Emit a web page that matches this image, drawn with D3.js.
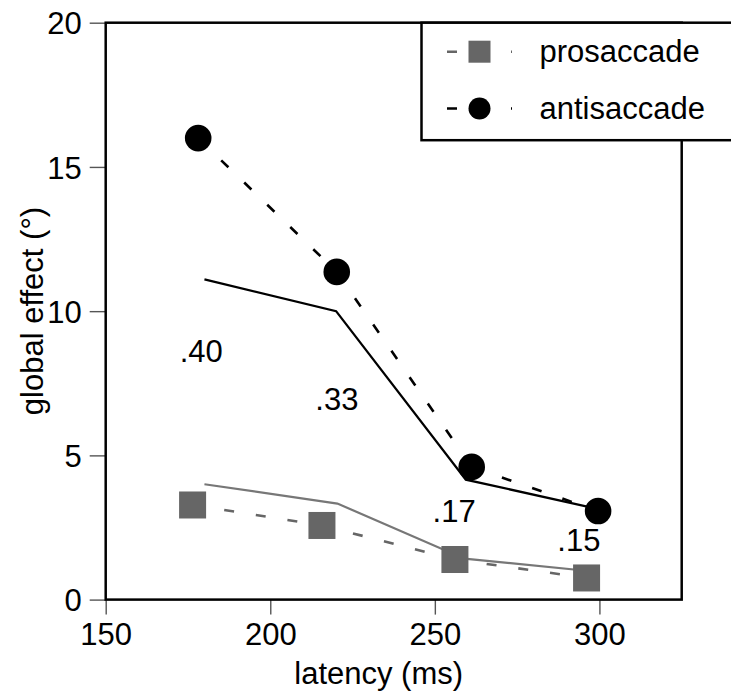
<!DOCTYPE html>
<html>
<head>
<meta charset="utf-8">
<script src="https://cdn.jsdelivr.net/npm/d3@7"></script>
<style>
  body { margin:0; background:#fff; }
  svg text { font-family: "Liberation Sans", Arial, Helvetica, sans-serif; }
</style>
</head>
<body>
<svg></svg>
<script>
// data
var xTicks = [150, 200, 250, 300];
var yTicks = [0, 5, 10, 15, 20];

// markers (dashed connections)
var proLatency  = [176.4, 215.7, 256.1, 296.1];
var proEffect   = [3.28, 2.57, 1.39, 0.75];
var antiLatency = [178.1, 220.2, 261.2, 299.6];
var antiEffect  = [16.0, 11.36, 4.6, 3.07];

// model fits (solid lines)
var proFitLatency  = [180, 220.4, 259, 296];
var proFitEffect   = [4.0, 3.33, 1.42, 1.0];
var antiFitLatency = [180, 220, 259.4, 300];
var antiFitEffect  = [11.1, 10.0, 4.16, 3.13];

// numbers written in the plot
var noteText    = [".40", ".33", ".17", ".15"];
var noteLatency = [172.5, 213.7, 249.3, 287.2];
var noteEffect  = [8.24, 6.56, 2.69, 1.69];

var legendNames = ["prosaccade", "antisaccade"];

var screen = {width:731, height:693};
var margins = {left:105.7, top:22.7, right:49.3, bottom:93.4};
var graph = {
    width: screen.width - margins.left - margins.right,
    height: screen.height - margins.top - margins.bottom
};

var grey = "#666666";
var fontSize = 31;

var svg = d3.select("svg")
    .attr("width", screen.width)
    .attr("height", screen.height);

var xScale = d3.scaleLinear().domain([150, 325]).range([0, graph.width]);
var yScale = d3.scaleLinear().domain([0, 20]).range([graph.height, 0]);

var target = svg.append("g")
    .attr("transform", "translate(" + margins.left + "," + margins.top + ")");

// axes
var yAxis = target.append("g")
    .call(d3.axisLeft(yScale).tickValues(yTicks).tickSize(16).tickPadding(8));
var xAxis = target.append("g")
    .attr("transform", "translate(0," + graph.height + ")")
    .call(d3.axisBottom(xScale).tickValues(xTicks).tickSize(15).tickPadding(8));

[xAxis, yAxis].forEach(function(ax) {
    ax.select(".domain").remove();
    ax.selectAll(".tick line").attr("stroke", "#555").attr("stroke-width", 1.4);
    ax.selectAll(".tick text")
        .attr("font-size", fontSize)
        .attr("fill", "#000")
        .style("font-family", '"Liberation Sans", Arial, sans-serif');
});
yAxis.selectAll(".tick text").attr("dy", "0.36em");
xAxis.selectAll(".tick text").attr("dy", "0.72em");

// frame
target.append("rect")
    .attr("x", 0).attr("y", 0)
    .attr("width", graph.width).attr("height", graph.height)
    .attr("fill", "none").attr("stroke", "#000").attr("stroke-width", 2.5);

var zip = function(xs, ys) {
    return xs.map(function(x, i) { return [x, ys[i]]; });
};
var line = d3.line()
    .x(function(d) { return xScale(d[0]); })
    .y(function(d) { return yScale(d[1]); });

// fitted solid lines
target.append("path")
    .attr("d", line(zip(proFitLatency, proFitEffect)))
    .attr("fill", "none").attr("stroke", "#777").attr("stroke-width", 2.2);
target.append("path")
    .attr("d", line(zip(antiFitLatency, antiFitEffect)))
    .attr("fill", "none").attr("stroke", "#000").attr("stroke-width", 2.3);

// dashed segments, each starting fresh from a marker
var drawDashed = function(pts, color) {
    for (var i = 0; i < pts.length - 1; i++) {
        target.append("path")
            .attr("d", line([pts[i], pts[i + 1]]))
            .attr("fill", "none")
            .attr("stroke", color)
            .attr("stroke-width", 2.6)
            .attr("stroke-dasharray", "10,22");
    }
};
drawDashed(zip(proLatency, proEffect), grey);
drawDashed(zip(antiLatency, antiEffect), "#000");

// markers
target.selectAll("rect.pro")
    .data(zip(proLatency, proEffect))
    .enter()
    .append("rect")
    .attr("class", "pro")
    .attr("x", function(d) { return xScale(d[0]) - 13.5; })
    .attr("y", function(d) { return yScale(d[1]) - 13.5; })
    .attr("width", 27).attr("height", 27)
    .attr("fill", grey);

target.selectAll("circle.anti")
    .data(zip(antiLatency, antiEffect))
    .enter()
    .append("circle")
    .attr("class", "anti")
    .attr("cx", function(d) { return xScale(d[0]); })
    .attr("cy", function(d) { return yScale(d[1]); })
    .attr("r", 13.3)
    .attr("fill", "#000");

// numbers
target.selectAll("text.note")
    .data(noteText)
    .enter()
    .append("text")
    .attr("class", "note")
    .attr("x", function(d, i) { return xScale(noteLatency[i]); })
    .attr("y", function(d, i) { return yScale(noteEffect[i]); })
    .attr("font-size", fontSize)
    .text(function(d) { return d; });

// axis labels
svg.append("text")
    .attr("x", 378.7).attr("y", 684)
    .attr("text-anchor", "middle")
    .attr("font-size", fontSize)
    .text("latency (ms)");

svg.append("text")
    .attr("transform", "translate(42.7,311) rotate(-90)")
    .attr("text-anchor", "middle")
    .attr("font-size", fontSize)
    .text("global effect (°)");

// legend (box runs off the right edge)
var legend = svg.append("g");
legend.append("rect")
    .attr("x", 421.5).attr("y", margins.top)
    .attr("width", 340).attr("height", 117.5)
    .attr("fill", "#fff").attr("stroke", "#000").attr("stroke-width", 2.5);

var legendY = [51.7, 108.5];
legendNames.forEach(function(name, i) {
    var yy = legendY[i];
    var col = i == 0 ? grey : "#000";
    legend.append("line")
        .attr("x1", 447).attr("x2", 512)
        .attr("y1", yy).attr("y2", yy)
        .attr("stroke", col).attr("stroke-width", 2.6)
        .attr("stroke-dasharray", "10,22");
    if (i == 0) {
        legend.append("rect")
            .attr("x", 468.5).attr("y", yy - 11)
            .attr("width", 22).attr("height", 22)
            .attr("fill", grey);
    } else {
        legend.append("circle")
            .attr("cx", 479.5).attr("cy", yy)
            .attr("r", 11).attr("fill", "#000");
    }
    legend.append("text")
        .attr("x", 539.5).attr("y", yy + 10)
        .attr("font-size", fontSize)
        .text(name);
});
</script>
</body>
</html>
